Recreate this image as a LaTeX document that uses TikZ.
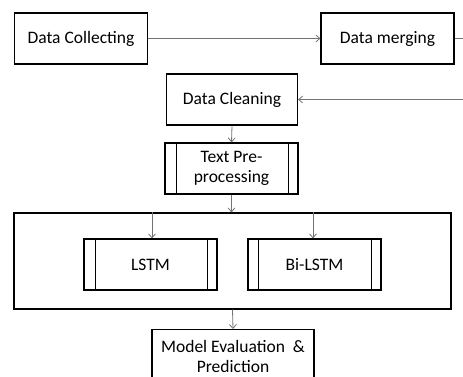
\documentclass[tikz,border=0pt]{standalone}
\usepackage{fontspec}
\setmainfont{Carlito}
\usetikzlibrary{arrows.meta}
\begin{document}
\begin{tikzpicture}[x=1pt,y=-1pt,
  box/.style={draw=black, line width=1.2pt, minimum width=133pt, minimum height=51pt,
    inner sep=2pt, align=center, font=\fontsize{17.5}{20}\selectfont},
  wire/.style={draw=black!55, line width=0.8pt},
  conn/.style={wire, -{Straight Barb[length=4pt,width=7pt]}},
  side/.style={draw=black, line width=1.2pt}]
\useasboundingbox (0,0) rectangle (463,376);
\node[box] (dc) at (81,38.5) {Data Collecting};
\node[box] (dm) at (387.5,38.5) {Data merging};
\node[box, minimum width=131pt] (cl) at (232,99.5) {Data Cleaning};
\node[box] (tp) at (231.5,168.5) {Text Pre-\\processing};
\draw[side] ([xshift=12pt]tp.north west) -- ([xshift=12pt]tp.south west);
\draw[side] ([xshift=-10pt]tp.north east) -- ([xshift=-10pt]tp.south east);
\node[box, minimum width=437pt, minimum height=96pt] (grp) at (232.5,261) {};
\node[box] (lstm) at (150.5,264.5) {LSTM};
\draw[side] ([xshift=12pt]lstm.north west) -- ([xshift=12pt]lstm.south west);
\draw[side] ([xshift=-10pt]lstm.north east) -- ([xshift=-10pt]lstm.south east);
\node[box] (bilstm) at (314.5,264.5) {Bi-LSTM};
\draw[side] ([xshift=11pt]bilstm.north west) -- ([xshift=11pt]bilstm.south west);
\draw[side] ([xshift=-10pt]bilstm.north east) -- ([xshift=-10pt]bilstm.south east);
\node[box, minimum width=162pt, minimum height=54pt, anchor=north] (me) at (233,329)
  {Model Evaluation~~\&\\Prediction};
\coordinate (e1) at (463,38.5);
\coordinate (e2) at (463,99.5);
\draw[conn] (dc.east) -- (dm.west);
\draw[wire] (dm.east) -- (e1);
\draw[conn] (e2) -- (cl.east);
\draw[conn] (cl.south) -- (tp.north);
\draw[conn] (tp.south) -- (tp.south |- grp.north);
\draw[conn] ([xshift=1.5pt]lstm.north |- grp.north) -- ([xshift=1.5pt]lstm.north);
\draw[conn] ([xshift=-1.5pt]bilstm.north |- grp.north) -- ([xshift=-1.5pt]bilstm.north);
\draw[conn] (grp.south) -- (me.north);
\end{tikzpicture}
\end{document}
